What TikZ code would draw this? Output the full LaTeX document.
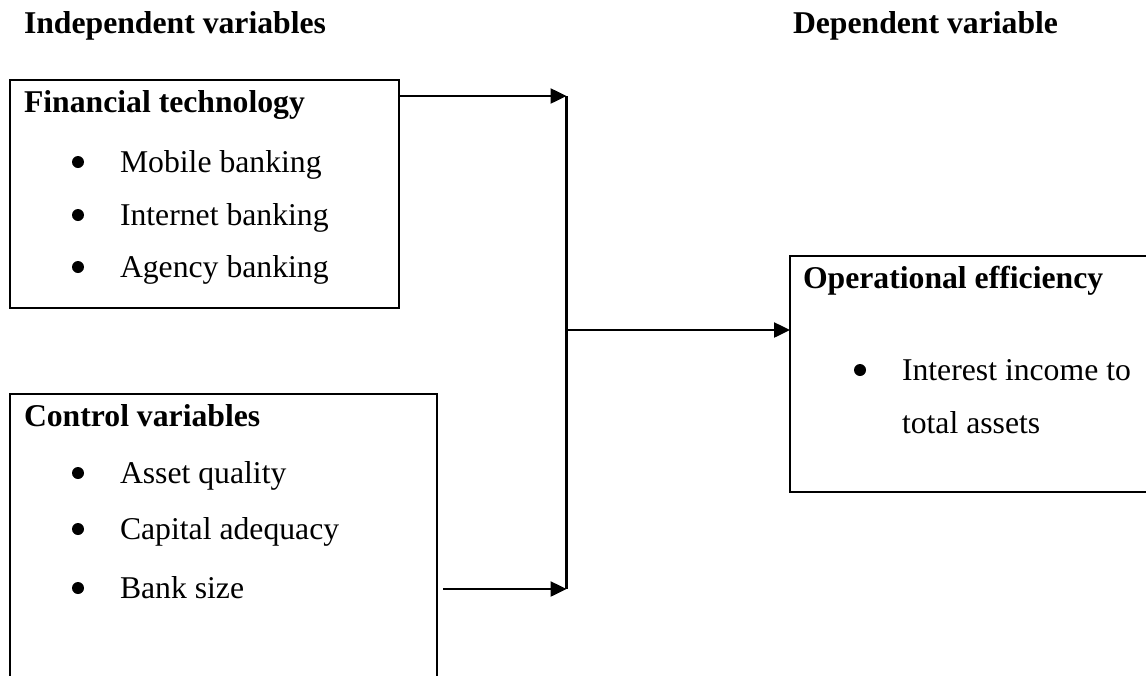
\documentclass[tikz,border=0pt]{standalone}
\usepackage{fontspec}
\setmainfont{Liberation Serif}
\usetikzlibrary{arrows.meta}
\begin{document}
\begin{tikzpicture}[x=1pt,y=1pt,
  every node/.style={inner sep=0pt, outer sep=0pt},
  box/.style={draw, line width=2.5pt, anchor=north west},
  txt/.style={anchor=base west, font=\fontsize{31.7}{38}\selectfont},
  head/.style={txt, font=\fontsize{31.7}{38}\selectfont\bfseries},
  dot/.style={circle, fill, minimum size=12pt},
  link/.style={line width=2.5pt},
  arr/.style={line width=2.5pt, -{Triangle[length=16pt,width=15pt]}}]
\useasboundingbox (0,0) rectangle (1146,-675);
% headers
\node[head] (hi) at (24,-33) {Independent variables};
\node[head] (hd) at (793,-33) {Dependent variable};
% boxes
\node[box, minimum width=389pt, minimum height=228pt] (ft) at (10,-80) {};
\node[box, minimum width=427pt, minimum height=300pt] (cv) at (10,-394) {};
\node[box, minimum width=370pt, minimum height=236pt] (oe) at (790,-256) {};
% financial technology
\node[head] (ftt) at (24,-112) {Financial technology};
\node[dot] (b1) at (78,-162) {};
\node[txt] (t1) at (120,-172) {Mobile banking};
\node[dot] (b2) at (78,-215) {};
\node[txt] (t2) at (120,-225) {Internet banking};
\node[dot] (b3) at (78,-267) {};
\node[txt] (t3) at (120,-277) {Agency banking};
% control variables
\node[head] (cvt) at (24,-426) {Control variables};
\node[dot] (b4) at (78,-473) {};
\node[txt] (t4) at (120,-483) {Asset quality};
\node[dot] (b5) at (78,-529) {};
\node[txt] (t5) at (120,-539) {Capital adequacy};
\node[dot] (b6) at (78,-588) {};
\node[txt] (t6) at (120,-598) {Bank size};
% operational efficiency
\node[head] (oet) at (803,-288) {Operational efficiency};
\node[dot] (b7) at (860,-370) {};
\node[txt] (t7) at (902,-380) {Interest income to};
\node[txt] (t8) at (902,-433) {total assets};
% connectors
\coordinate (j1) at (566.5,-96);
\coordinate (j2) at (566.5,-589);
\coordinate (jm) at (566.5,-330);
\coordinate (s2) at (443,-589);
\draw[arr] (ft.east |- j1) -- (j1);
\draw[arr] (s2) -- (j2);
\draw[link] (j1) -- (j2);
\draw[arr] (jm) -- (oe.west |- jm);
\end{tikzpicture}
\end{document}
